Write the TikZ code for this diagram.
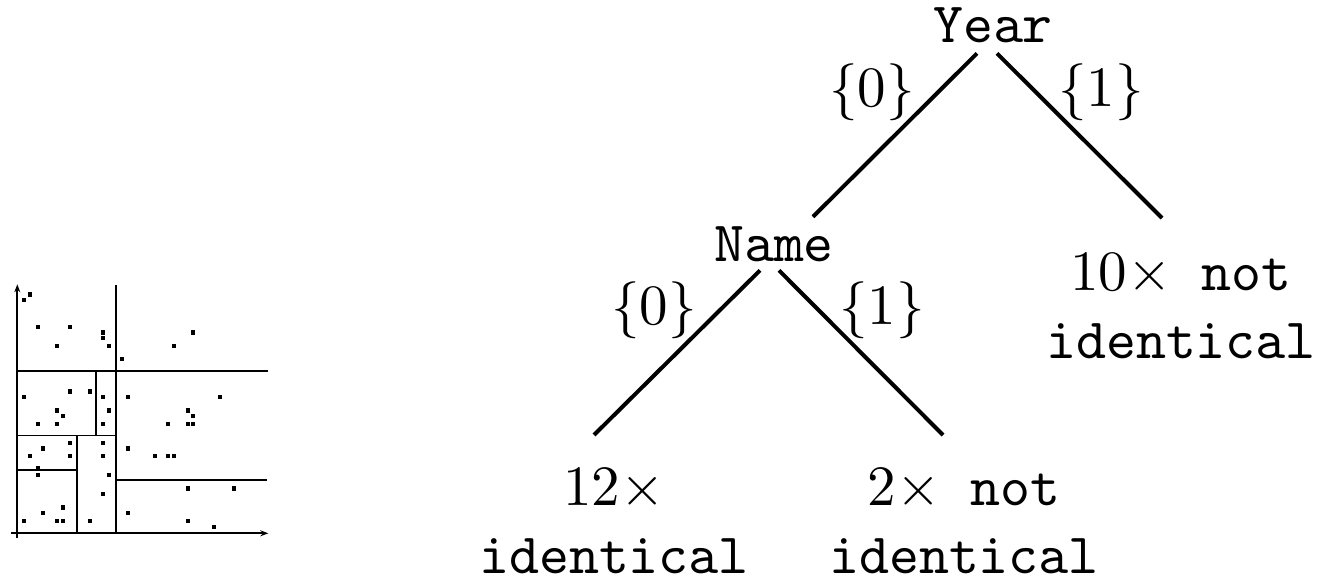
\documentclass[tikz,border=0pt]{standalone}
\usetikzlibrary{arrows.meta,calc}
\font\treett=cmtt10 at 28.5pt
\font\treerm=cmr10 at 28.5pt
\font\treesy=cmsy10 at 28.5pt
\tikzset{
  lab/.style={font={\fontsize{28.5}{34}\selectfont\treett},inner sep=0pt,align=center},
  brace/.style={font=\treerm,inner sep=0pt},
  edge/.style={line width=2pt},
  cut/.style={line width=0.9pt},
  axis/.style={line width=0.9pt,-{Stealth[length=4pt,width=3pt]}}
}
\newcommand{\cnt}[1]{{\treerm #1\treesy\char"02}}
\newcommand{\setof}[1]{{\treesy\char"66}#1{\treesy\char"67}}

\begin{document}
\begin{tikzpicture}[x=0.5pt,y=-0.5pt]
  \useasboundingbox (0,0) rectangle (1328,582);

  % partitioned point set
  \begin{scope}[shift={(17.3,533.3)},yscale=-1]
    \draw[axis] (-6,0) -- (251,0);
    \draw[axis] (0,-5) -- (0,249);
    \draw[cut] (98.3,0) -- (98.3,248.3);
    \draw[cut] (0,162.3) -- (251,162.3);
    \draw[cut] (79,97.7) -- (79,162.3);
    \draw[cut] (0,97.7) -- (98.3,97.7);
    \draw[cut] (60,0) -- (60,97.7);
    \draw[cut] (0,63) -- (60,63);
    \draw[cut] (98.3,53.3) -- (249.3,53.3);
    \foreach \x/\y in {6.7/233,12.7/238.7,20.3/206.3,53/206.3,39.7/187.3,85.7/200.7,85.7/195,
      91.7/187.3,105/174,157/187.3,176/200.7,6.7/136,53/141.7,72.3/141.7,85.7/136,111/136,
      202.7/136,39.7/122.7,45.3/117,91.7/122.7,20.3/109.3,39.7/109.3,85.7/109.3,151/109.3,
      170.3/109.3,176/109.3,170.3/122.7,176/117,53/90.3,26/84.7,12.7/77,53/77,85.7/90.3,
      85.7/77,111/84.7,137.7/77,151/77,157/77,20.3/65.3,20.3/58,91.7/58,85.7/39,170.3/44.7,
      216.7/44.7,26/20,45.3/25.7,6.7/12.3,39.7/12.3,45.3/12.3,72.3/12.3,111/20,170.3/12.3,197/6.7}
      \fill (\x-2.1,\y-2.1) rectangle ++(4.2,4.2);
  \end{scope}

  % decision tree
  \node[lab,anchor=base] (year) at (993,43) {Year};
  \node[lab,anchor=base] (name) at (774,262) {Name};
  \node[lab,anchor=north] (same) at (614,468) {\cnt{12}\\identical};
  \node[lab,anchor=north] (diff2) at (964,468) {\cnt{2} not\\identical};
  \node[lab,anchor=north] (diff10) at (1181,253) {\cnt{10} not\\identical};

  \draw[edge] ($(year.south)+(-16,10)$) -- ($(name.north)+(39,-10)$);
  \draw[edge] ($(year.south)+(4,10)$) -- ($(diff10.north)+(-19,-35)$);
  \draw[edge] ($(name.south)+(-14,8)$) -- ($(same.north)+(-20,-33)$);
  \draw[edge] ($(name.south)+(5,8)$) -- ($(diff2.north)+(-21,-33)$);

  \node[brace] (y0) at (872,92) {\setof{0}};
  \node[brace] (y1) at (1101,92) {\setof{1}};
  \node[brace] (n0) at (654,310) {\setof{0}};
  \node[brace] (n1) at (882,310) {\setof{1}};
\end{tikzpicture}
\end{document}
